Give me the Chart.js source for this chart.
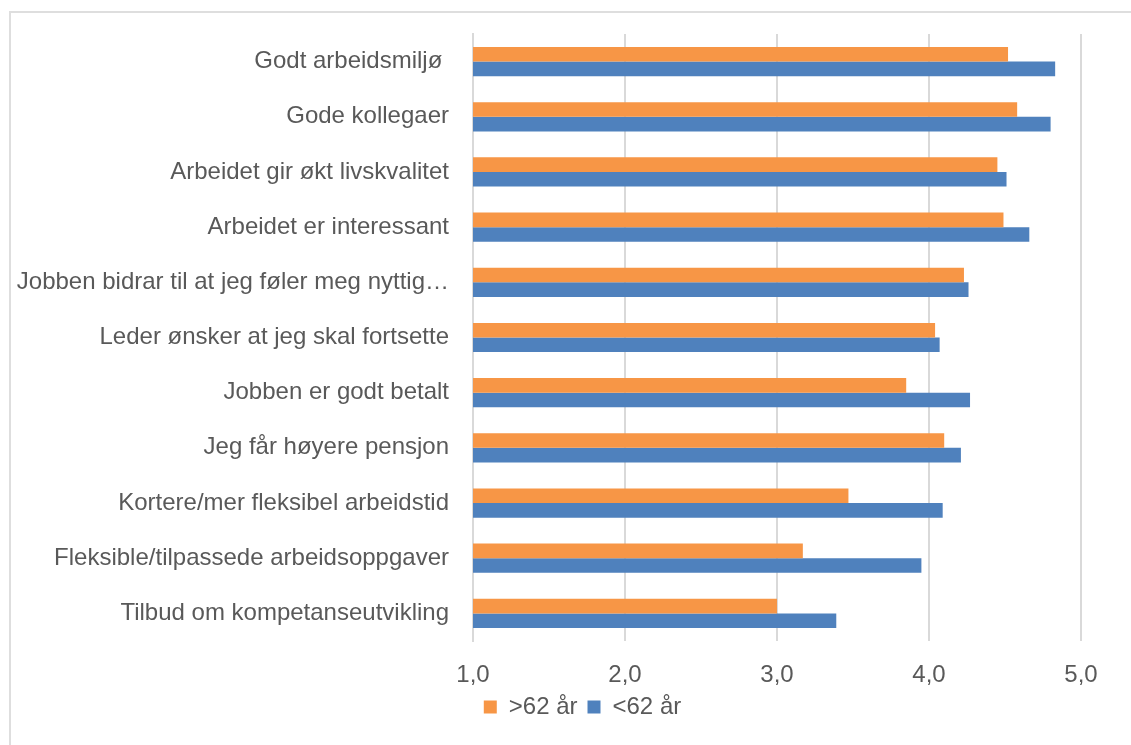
<!DOCTYPE html>
<html>
<head>
<meta charset="utf-8">
<script src="https://cdn.jsdelivr.net/npm/chart.js@4"></script>
<style>
    body { margin: 0; background: #fff; }
    #frame {
        position: absolute; left: 9px; top: 11px;
        width: 1200px; height: 800px;
        border-left: 2px solid #dedede; border-top: 2px solid #dedede;
    }
    #chart { position: absolute; left: 0; top: 0; }
</style>
</head>
<body>
<div id="frame"></div>
<canvas id="chart" width="1131" height="745"></canvas>
<script>
const categories = [
    'Godt arbeidsmiljø ',
    'Gode kollegaer',
    'Arbeidet gir økt livskvalitet',
    'Arbeidet er interessant',
    'Jobben bidrar til at jeg føler meg nyttig…',
    'Leder ønsker at jeg skal fortsette',
    'Jobben er godt betalt',
    'Jeg får høyere pensjon',
    'Kortere/mer fleksibel arbeidstid',
    'Fleksible/tilpassede arbeidsoppgaver',
    'Tilbud om kompetanseutvikling'
];
const over62 = [4.52, 4.58, 4.45, 4.49, 4.23, 4.04, 3.85, 4.10, 3.47, 3.17, 3.00];
const under62 = [4.83, 4.80, 4.51, 4.66, 4.26, 4.07, 4.27, 4.21, 4.09, 3.95, 3.39];
const seriesNames = ['>62 år', '<62 år'];
const xTicks = [1, 2, 3, 4, 5];

const textColor = '#595959';
const gridColor = '#d9d9d9';
const font = { family: "'Liberation Sans', Arial, sans-serif", size: 24 };

// legend sits a bit right of the canvas centre in the original
const shiftLegend = {
    id: 'shiftLegend',
    afterLayout(chart) {
        const dx = 37;
        chart.legend.left += dx;
        chart.legend.right += dx;
    }
};

new Chart(document.getElementById('chart').getContext('2d'), {
    type: 'bar',
    data: {
        labels: categories,
        datasets: [
            { label: seriesNames[0], data: over62, backgroundColor: '#F79646' },
            { label: seriesNames[1], data: under62, backgroundColor: '#4F81BD' }
        ]
    },
    options: {
        indexAxis: 'y',
        responsive: false,
        animation: false,
        devicePixelRatio: 1,
        barPercentage: 1,
        categoryPercentage: 0.53,
        layout: { padding: { left: 10, right: 50, top: 34, bottom: 16 } },
        scales: {
            x: {
                min: xTicks[0],
                max: xTicks[xTicks.length - 1],
                afterBuildTicks: scale => { scale.ticks = xTicks.map(v => ({ value: v })); },
                afterFit: scale => { scale.height = 44; },
                ticks: {
                    color: textColor,
                    font: font,
                    padding: 20,
                    callback: v => v.toFixed(1).replace('.', ',')
                },
                grid: { color: gridColor, lineWidth: 2, drawTicks: false },
                border: { display: false }
            },
            y: {
                afterFit: scale => {
                    scale.width = 463;
                    scale.paddingTop = 0;
                    scale.paddingBottom = 0;
                },
                ticks: { color: textColor, font: font, padding: 24, autoSkip: false },
                grid: { display: false, drawTicks: false },
                border: { display: true, color: gridColor, width: 2 }
            }
        },
        plugins: {
            legend: {
                position: 'bottom',
                labels: {
                    color: textColor,
                    font: font,
                    boxWidth: 13,
                    boxHeight: 13,
                    padding: 10
                }
            },
            tooltip: { enabled: false }
        }
    },
    plugins: [shiftLegend]
});
</script>
</body>
</html>
